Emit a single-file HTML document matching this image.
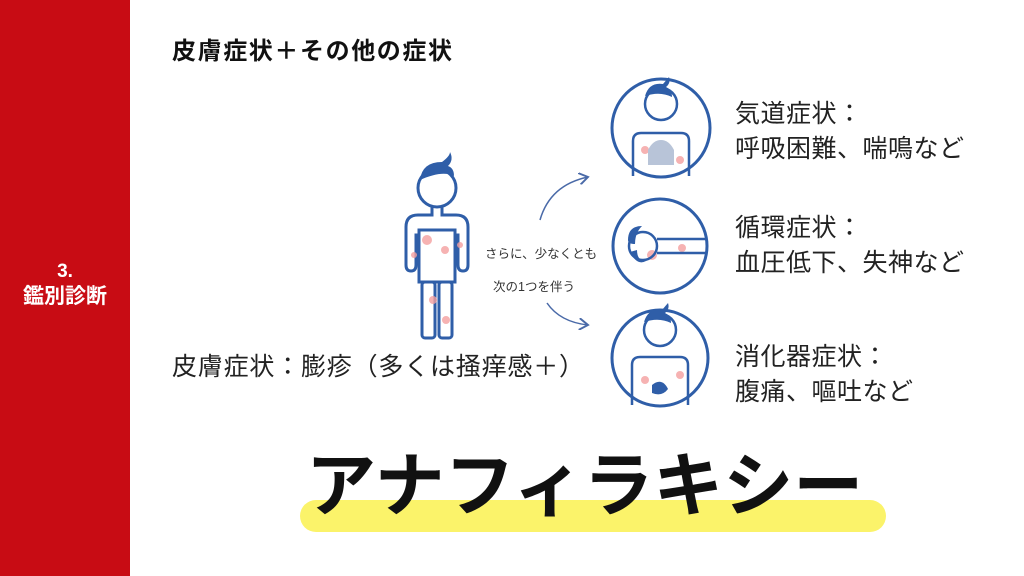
<!DOCTYPE html>
<html><head><meta charset="utf-8"><style>
body{margin:0;width:1024px;height:576px;position:relative;background:#fff;overflow:hidden;font-family:"Liberation Sans","Noto Sans CJK JP",sans-serif;color:#222}
.t{position:absolute;white-space:nowrap;line-height:1}
</style></head><body>
<div style="position:absolute;left:0;top:0;width:130px;height:576px;background:#c80c14"></div>
<div class="t" style="left:0;width:130px;text-align:center;top:262px;color:#fff;font-weight:bold;font-size:19px">3.</div>
<div class="t" style="left:0;width:130px;text-align:center;top:286px;color:#fff;font-weight:bold;font-size:21px">鑑別診断</div>
<div class="t" style="left:172px;top:40px;font-size:24px;font-weight:bold;letter-spacing:1.6px;color:#111">皮膚症状＋その他の症状</div>
<div class="t" style="left:172px;top:355px;font-size:25px;letter-spacing:0.8px">皮膚症状：膨疹（多くは掻痒感＋）</div>
<div class="t" style="left:735px;top:97px;font-size:25px;line-height:35px;letter-spacing:0.5px">気道症状：<br>呼吸困難、喘鳴など</div>
<div class="t" style="left:735px;top:211px;font-size:25px;line-height:35px;letter-spacing:0.5px">循環症状：<br>血圧低下、失神など</div>
<div class="t" style="left:735px;top:340px;font-size:25px;line-height:35px;letter-spacing:0.5px">消化器症状：<br>腹痛、嘔吐など</div>
<div class="t" style="left:485px;top:238px;font-size:12.5px;line-height:33px;color:#333">さらに、少なくとも<br><span style="padding-left:8px">次の1つを伴う</span></div>
<div style="position:absolute;left:300px;top:500px;width:586px;height:32px;border-radius:16px;background:#fbf36a"></div>
<div class="t" style="left:306px;top:451px;font-size:70px;font-weight:bold;color:#111">アナフィラキシー</div>
<svg width="1024" height="576" style="position:absolute;left:0;top:0">
<defs><marker id="a" markerWidth="8" markerHeight="8" refX="6" refY="4" orient="auto"><path d="M0,0 L6,4 L0,8" fill="none" stroke="#4a6aa8" stroke-width="1.3"/></marker></defs>
<g fill="none" stroke="#4a6aa8" stroke-width="1.5">
<path d="M540,220 Q550,185 588,177" marker-end="url(#a)"/>
<path d="M547,303 Q560,322 588,325" marker-end="url(#a)"/>
</g>
<g stroke="#2f5ea8" stroke-width="3" fill="#fff">
<circle cx="437" cy="188" r="19"/>
<path d="M432,207 v8 h-14 q-12,0 -12,12 v38 q0,6 5,6 q5,0 5,-6 v-30 h3 M442,207 v8 h14 q12,0 12,12 v38 q0,6 -5,6 q-5,0 -5,-6 v-30 h-3"/>
<rect x="419" y="230" width="36" height="52"/>
<rect x="422" y="282" width="13" height="56" rx="3"/>
<rect x="439" y="282" width="13" height="56" rx="3"/>
<circle cx="661" cy="128" r="49"/>
<circle cx="660" cy="246" r="47"/>
<circle cx="660" cy="358" r="48"/>
</g>
<g fill="#2f5ea8"><path d="M420,180 q2,-18 22,-18 q8,-6 8,-10 q4,8 -2,14 q6,2 6,10 q-12,-6 -34,4z"/></g>
<g fill="#f4a0a0" opacity="0.8">
<circle cx="427" cy="240" r="5"/><circle cx="445" cy="250" r="4"/><circle cx="433" cy="300" r="4"/><circle cx="446" cy="320" r="4"/><circle cx="414" cy="255" r="3"/><circle cx="460" cy="245" r="3"/>
<circle cx="645" cy="150" r="4"/><circle cx="680" cy="160" r="4"/><circle cx="652" cy="255" r="5"/><circle cx="682" cy="248" r="4"/><circle cx="645" cy="380" r="4"/><circle cx="680" cy="375" r="4"/>
</g>
<g stroke="#2f5ea8" stroke-width="2.5" fill="none">
<circle cx="661" cy="104" r="16"/><path d="M633,176 v-35 q0,-8 8,-8 h40 q8,0 8,8 v35"/>
<circle cx="643" cy="246" r="14"/><path d="M657,239 h50 M657,253 h50"/>
<circle cx="660" cy="330" r="16"/><path d="M632,405 v-40 q0,-8 8,-8 h40 q8,0 8,8 v40"/>
</g>
<path d="M648,150 q5,-10 13,-10 q8,0 13,10 v15 h-26z" fill="#b8c4d8"/>
<path d="M652,385 q10,-8 16,4 q-6,8 -16,4z" fill="#2f5ea8"/>
<g fill="#2f5ea8"><path d="M645,96 q4,-14 18,-12 l6,-7 q2,6 -3,10 q6,3 6,10 q-12,-6 -27,-1z"/><path d="M644,322 q4,-14 18,-12 l6,-7 q2,6 -3,10 q6,3 6,10 q-12,-6 -27,-1z"/><path d="M628,240 q0,-14 14,-14 q-7,7 -7,18 q-7,0 -7,-4z M630,252 q7,14 16,9 q-9,0 -9,-11z"/></g>
</svg>
</body></html>
